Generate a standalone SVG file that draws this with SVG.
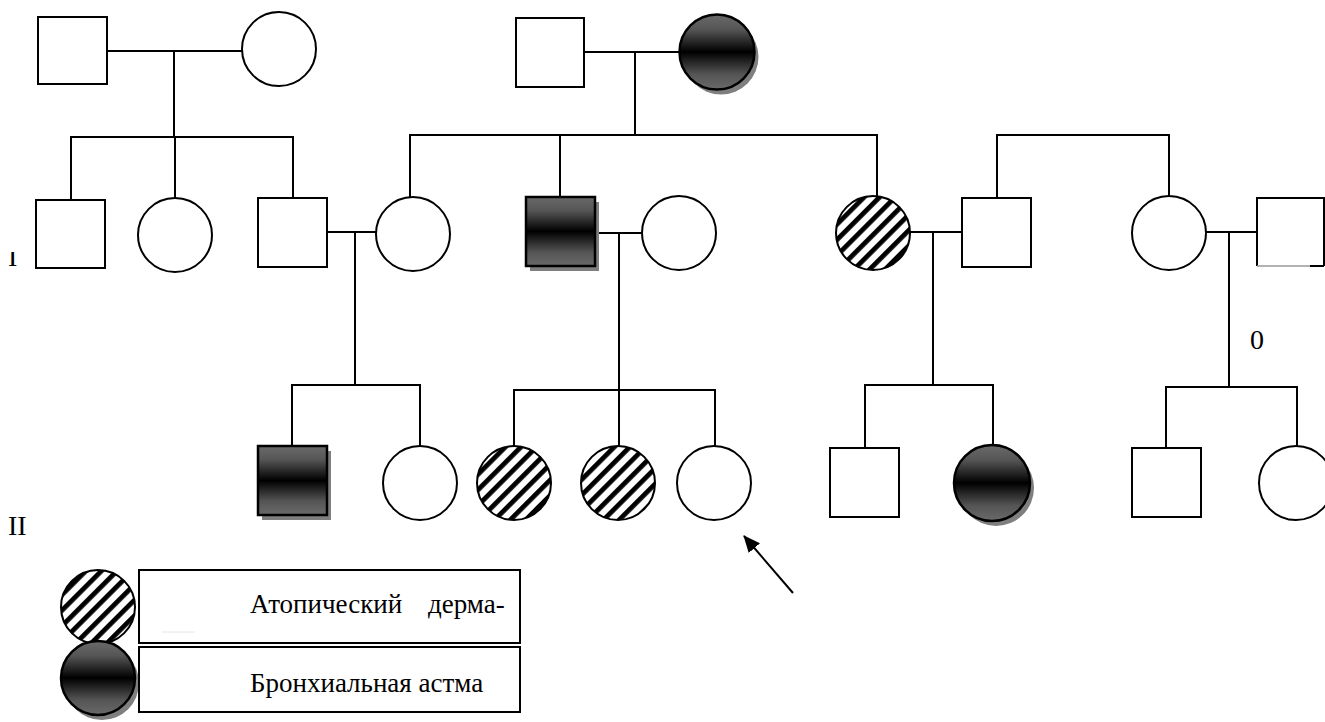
<svg xmlns="http://www.w3.org/2000/svg" width="1325" height="722" viewBox="0 0 1325 722">
<style>
.s{fill:#fff;stroke:#000;stroke-width:2}
.f{fill:url(#grad);stroke:#000;stroke-width:2.5}
.h{fill:url(#hatch);stroke:#000;stroke-width:2}
.sh{fill:#7f7f7f;stroke:none}
.c{stroke:#000;stroke-width:2;fill:none}
text{fill:#000;font-family:Liberation Serif, Tinos, Times New Roman, Times, DejaVu Serif, Noto Serif, FreeSerif, serif}
</style>
<defs>
<linearGradient id="grad" x1="0" y1="0" x2="0" y2="1">
<stop offset="0" stop-color="#6a6a6a"/>
<stop offset="0.2" stop-color="#555"/>
<stop offset="0.5" stop-color="#000"/>
<stop offset="0.8" stop-color="#555"/>
<stop offset="1" stop-color="#6a6a6a"/>
</linearGradient>
<pattern id="hatch" patternUnits="userSpaceOnUse" width="11" height="11" patternTransform="rotate(45)">
<rect width="11" height="11" fill="#fff"/>
<rect x="0" y="0" width="4.8" height="11" fill="#000"/>
</pattern>
<marker id="ah" viewBox="0 0 17 15" refX="16" refY="7.5" markerWidth="17" markerHeight="15" markerUnits="userSpaceOnUse" orient="auto">
<path d="M0,0 L17,7.5 L0,15 z" fill="#000"/>
</marker>
<clipPath id="clipI"><rect x="0" y="252" width="40" height="20"/></clipPath>
</defs>

<g id="connectors">
<line class="c" x1="107" y1="51" x2="242" y2="51"/>
<line class="c" x1="174" y1="51" x2="174" y2="137"/>
<line class="c" x1="71" y1="137" x2="293" y2="137"/>
<line class="c" x1="71" y1="136" x2="71" y2="200"/>
<line class="c" x1="175" y1="137" x2="175" y2="198"/>
<line class="c" x1="293" y1="136" x2="293" y2="198"/>
<line class="c" x1="584" y1="52" x2="680" y2="52"/>
<line class="c" x1="635" y1="52" x2="635" y2="135"/>
<line class="c" x1="410" y1="135" x2="877" y2="135"/>
<line class="c" x1="410" y1="134" x2="410" y2="197"/>
<line class="c" x1="560" y1="135" x2="560" y2="197"/>
<line class="c" x1="877" y1="134" x2="877" y2="196"/>
<line class="c" x1="997" y1="135" x2="1169" y2="135"/>
<line class="c" x1="997" y1="134" x2="997" y2="198"/>
<line class="c" x1="1169" y1="134" x2="1169" y2="196"/>
<line class="c" x1="327" y1="232" x2="376" y2="232"/>
<line class="c" x1="355" y1="232" x2="355" y2="385"/>
<line class="c" x1="292" y1="385" x2="420" y2="385"/>
<line class="c" x1="292" y1="384" x2="292" y2="446"/>
<line class="c" x1="420" y1="384" x2="420" y2="446"/>
<line class="c" x1="596" y1="233" x2="642" y2="233"/>
<line class="c" x1="619" y1="233" x2="619" y2="446"/>
<line class="c" x1="514" y1="390" x2="715" y2="390"/>
<line class="c" x1="514" y1="389" x2="514" y2="446"/>
<line class="c" x1="715" y1="389" x2="715" y2="446"/>
<line class="c" x1="910" y1="232" x2="962" y2="232"/>
<line class="c" x1="933" y1="232" x2="933" y2="385"/>
<line class="c" x1="865" y1="385" x2="993" y2="385"/>
<line class="c" x1="865" y1="384" x2="865" y2="448"/>
<line class="c" x1="993" y1="384" x2="993" y2="446"/>
<line class="c" x1="1206" y1="232" x2="1257" y2="232"/>
<line class="c" x1="1229" y1="232" x2="1229" y2="387"/>
<line class="c" x1="1166" y1="387" x2="1297" y2="387"/>
<line class="c" x1="1166" y1="386" x2="1166" y2="448"/>
<line class="c" x1="1297" y1="386" x2="1297" y2="446"/>
<line x1="793" y1="593" x2="744" y2="536" stroke="#000" stroke-width="2" marker-end="url(#ah)"/>
</g>

<g id="p1"><rect class="s" x="38" y="17" width="69" height="67"/></g>
<g id="p2"><circle class="s" cx="279" cy="49" r="37"/></g>
<g id="p3"><rect class="s" x="516" y="18" width="68" height="69"/></g>
<g id="p4"><circle class="sh" cx="721" cy="57" r="37.5"/><circle class="f" cx="717" cy="52" r="37.5"/></g>

<g id="i1"><rect class="s" x="36" y="200" width="69" height="68"/></g>
<g id="i2"><circle class="s" cx="175" cy="235" r="37"/></g>
<g id="i3"><rect class="s" x="258" y="198" width="69" height="69"/></g>
<g id="i4"><circle class="s" cx="413" cy="234" r="37"/></g>
<g id="i5"><rect class="sh" x="530" y="202" width="69" height="69"/><rect class="f" x="526" y="197" width="69" height="69"/></g>
<g id="i6"><circle class="s" cx="679" cy="233" r="37"/></g>
<g id="i7"><circle class="h" cx="873" cy="233" r="37"/></g>
<g id="i8"><rect class="s" x="962" y="198" width="69" height="69"/></g>
<g id="i9"><circle class="s" cx="1169" cy="233" r="37"/></g>
<g id="i10">
<rect x="1257" y="198" width="67" height="68" fill="#fff"/>
<path d="M1257,266 V198 H1324 V266" class="c"/>
<line x1="1257" y1="266" x2="1310" y2="266" stroke="#999" stroke-width="1.5"/>
<line x1="1310" y1="266" x2="1324" y2="266" stroke="#000" stroke-width="2"/>
</g>

<g id="ii1"><rect class="sh" x="262" y="451" width="69" height="69"/><rect class="f" x="258" y="446" width="69" height="69"/></g>
<g id="ii2"><circle class="s" cx="420" cy="483" r="37"/></g>
<g id="ii3"><circle class="h" cx="514" cy="483" r="37"/></g>
<g id="ii4"><circle class="h" cx="618" cy="483" r="37"/></g>
<g id="ii5"><circle class="s" cx="714" cy="483" r="37"/></g>
<g id="ii6"><rect class="s" x="830" y="448" width="69" height="69"/></g>
<g id="ii7"><circle class="sh" cx="996" cy="488" r="38"/><circle class="f" cx="992" cy="483" r="38"/></g>
<g id="ii8"><rect class="s" x="1132" y="448" width="69" height="69"/></g>
<g id="ii9"><circle class="s" cx="1296" cy="483" r="37"/></g>

<g id="labels">
<text x="8" y="266" font-size="28" clip-path="url(#clipI)">I</text>
<text x="8" y="535" font-size="28">II</text>
<text x="1250" y="349" font-size="28">0</text>
</g>

<g id="legend-atopic">
<circle class="h" cx="98" cy="607" r="37"/>
<rect class="s" x="139" y="570" width="381" height="73"/>
<line x1="162" y1="632" x2="195" y2="632" stroke="#e6e6e6" stroke-width="1"/>
<text x="250" y="613" font-size="27">Атопический</text>
<text x="428" y="613" font-size="27">дерма-</text>
</g>
<g id="legend-asthma">
<circle class="sh" cx="102" cy="683" r="37"/>
<circle class="f" cx="98" cy="678" r="37"/>
<rect class="s" x="139" y="647" width="381" height="65"/>
<text x="250" y="692" font-size="27">Бронхиальная астма</text>
</g>
</svg>
